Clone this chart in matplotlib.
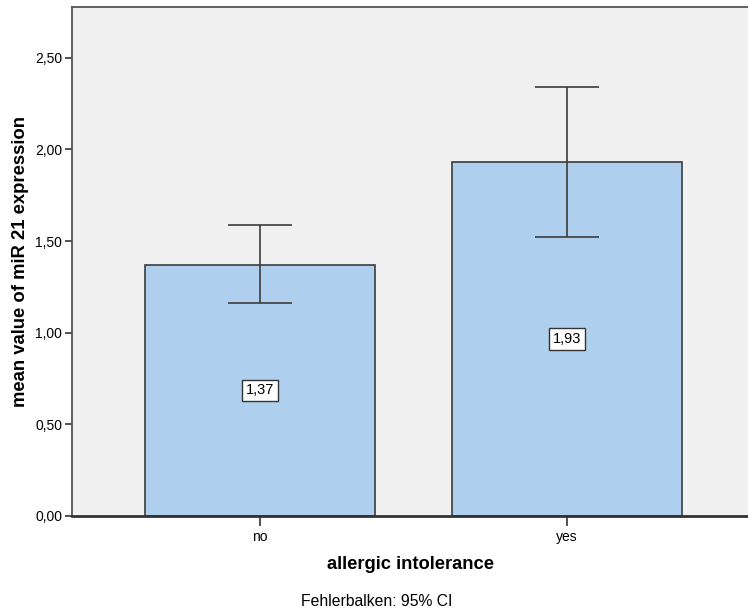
import matplotlib
matplotlib.use('Agg')
import matplotlib.pyplot as plt
from matplotlib.ticker import FuncFormatter

# data
categories = ['no', 'yes']
means = [1.37, 1.93]
ci_low = [1.164, 1.524]
ci_high = [1.588, 2.342]
yticks = [0.0, 0.5, 1.0, 1.5, 2.0, 2.5]

plt.rcParams['font.family'] = ['Liberation Sans', 'DejaVu Sans']

fig = plt.figure(figsize=(7.48, 6.15), dpi=100)
ax = fig.add_axes([0.0963, 0.161, 0.9037, 0.8276])
ax.set_facecolor('#f0f0f0')

x = list(range(len(categories)))
ax.bar(x, means, width=0.75, color='#aecfee', edgecolor='#3c3c3c', linewidth=1.2, zorder=2)

err_lo = [m - lo for m, lo in zip(means, ci_low)]
err_hi = [hi - m for m, hi in zip(means, ci_high)]
ax.errorbar(x, means, yerr=[err_lo, err_hi], fmt='none', ecolor='#3c3c3c',
            elinewidth=1.2, capsize=23, capthick=1.2, zorder=3)

# value labels in the middle of each bar
for xi, m in zip(x, means):
    ax.text(xi, m / 2, f'{m:.2f}'.replace('.', ','), ha='center', va='center',
            fontsize=10.5, zorder=4,
            bbox=dict(boxstyle='square,pad=0.25', facecolor='white', edgecolor='#333333', linewidth=1))

ax.set_xlim(-0.614, 1.5915)
ax.set_ylim(0, 2.777)
ax.set_xticks(x)
ax.set_xticklabels(categories, fontsize=10)
ax.set_yticks(yticks)
ax.yaxis.set_major_formatter(FuncFormatter(lambda v, p: f'{v:.2f}'.replace('.', ',')))
ax.tick_params(axis='y', labelsize=10, length=5, width=1.2, color='#333333', pad=2)
ax.tick_params(axis='x', length=7, width=1.2, color='#333333', pad=3)

for side in ['left', 'bottom', 'top']:
    ax.spines[side].set_color('#555555')
    ax.spines[side].set_linewidth(1.3)
ax.spines['bottom'].set_color('#333333')
ax.spines['bottom'].set_linewidth(2)
ax.spines['right'].set_visible(False)

ax.set_ylabel('mean value of miR 21 expression', fontsize=13.3, fontweight='bold')
ax.yaxis.set_label_coords(-0.064, 0.5)
ax.set_xlabel('allergic intolerance', fontsize=13.2, fontweight='bold', labelpad=9)

fig.text(377 / 748, 1 - 601 / 615, 'Fehlerbalken: 95% CI', ha='center', va='center', fontsize=11.3)

fig.savefig('out.png', dpi=100, facecolor='white')
